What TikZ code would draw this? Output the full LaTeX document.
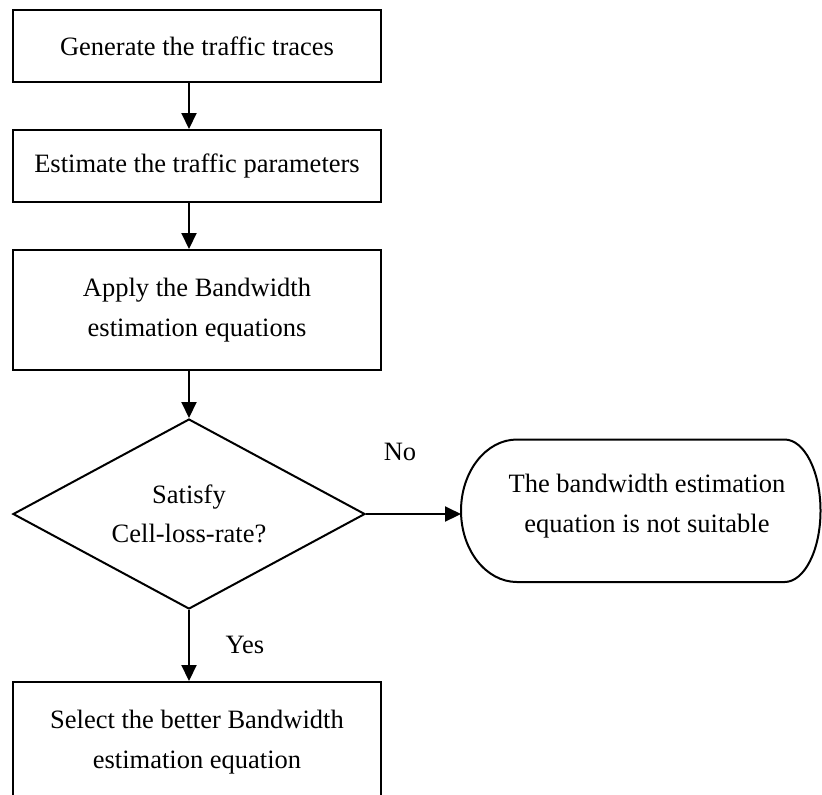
\documentclass[tikz,border=0pt]{standalone}
\usepackage{fontspec}
\setmainfont{Liberation Serif}
\usetikzlibrary{arrows.meta,shapes.geometric}
\begin{document}
\begin{tikzpicture}[x=0.5pt,y=-0.5pt,
  every node/.style={font=\fontsize{13.25}{19.75}\selectfont},
  procbox/.style={draw, line width=1pt, minimum width=184pt, inner sep=0pt, align=center},
  flow/.style={line width=1pt, -{Triangle[length=8pt,width=7.5pt]}}]
\useasboundingbox (0,0) rectangle (822,794);
\clip (0,0) rectangle (822,794);
\node[procbox, minimum height=36pt] (b1) at (197,46) {Generate the traffic traces};
\node[procbox, minimum height=36pt] (b2) at (197,166) {Estimate the traffic parameters};
\node[procbox, minimum height=60pt] (b3) at (197,310) {Apply the Bandwidth\\estimation equations};
\node[draw, diamond, aspect=1.85, line width=1pt, minimum width=176pt, minimum height=95pt, inner sep=0pt, align=center] (dec) at (189,514) {Satisfy\\Cell-loss-rate?};
\node[procbox, minimum height=60pt] (b4) at (197,742) {Select the better Bandwidth\\estimation equation};
\node[align=center] (nr) at (647,506) {The bandwidth estimation\\equation is not suitable};
\coordinate (nrl) at (461,514);
\draw[line width=1pt] (517,439.5) -- (784.5,439.5)
  arc[start angle=90,end angle=-90,x radius=18pt,y radius=35.625pt]
  -- (517,582)
  arc[start angle=270,end angle=90,x radius=28pt,y radius=35.625pt] -- cycle;
\node (no) at (400,452) {No};
\node (yes) at (245,645) {Yes};
\draw[flow] (b1.south -| dec.north) -- (b2.north -| dec.north);
\draw[flow] (b2.south -| dec.north) -- (b3.north -| dec.north);
\draw[flow] (b3.south -| dec.north) -- (dec.north);
\draw[flow] (dec.east) -- (nrl);
\draw[flow] (dec.south) -- (b4.north -| dec.south);
\end{tikzpicture}
\end{document}
